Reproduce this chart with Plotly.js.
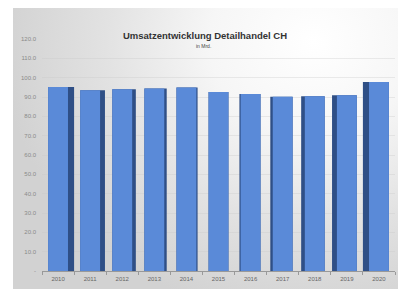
<!DOCTYPE html>
<html>
<head>
<meta charset="utf-8">
<script src="https://cdn.plot.ly/plotly-3.0.1.min.js"></script>
<style>
  html, body { margin: 0; padding: 0; background: #ffffff; }
  #wrap { position: relative; width: 398px; height: 289px; overflow: hidden; }
  #slide { position: absolute; left: 13px; top: 8px; width: 385px; height: 281px;
    background: radial-gradient(ellipse 90% 110% at 78% 12%, #ffffff 0%, #f6f6f6 30%, #e2e2e2 60%, #d2d2d2 90%); }
  #chart { position: absolute; left: 0; top: 0; width: 398px; height: 289px; }
</style>
</head>
<body>
<div id="wrap"><div id="slide"></div><div id="chart"></div></div>
<script>
const years = ['2010','2011','2012','2013','2014','2015','2016','2017','2018','2019','2020'];
const umsatz = [95.2, 93.5, 94.0, 94.4, 94.9, 92.6, 91.5, 90.1, 90.4, 90.9, 97.8];
const yTickVals = [0, 10, 20, 30, 40, 50, 60, 70, 80, 90, 100, 110, 120];
const yTickText = ['-', '10.0', '20.0', '30.0', '40.0', '50.0', '60.0', '70.0', '80.0', '90.0', '100.0', '110.0', '120.0'];

const frontW = 0.62;
const center = 5;
const sideW = years.map((_, i) => Math.abs(i - center) * 0.038);
const sideOffset = years.map((_, i) => i < center ? -frontW / 2 : -frontW / 2 - sideW[i]);

const side = {
  type: 'bar', x: years, y: umsatz,
  width: years.map((_, i) => frontW + sideW[i]),
  offset: sideOffset,
  marker: { color: '#2f4f86', line: { width: 0 } },
  hoverinfo: 'skip', showlegend: false
};
const front = {
  type: 'bar', x: years, y: umsatz,
  width: frontW, offset: -frontW / 2,
  marker: { color: '#5a8ad8', line: { width: 0 } },
  showlegend: false
};

const layout = {
  width: 398, height: 289,
  margin: { l: 42, r: 3, t: 39, b: 18 },
  paper_bgcolor: 'rgba(0,0,0,0)',
  plot_bgcolor: 'rgba(0,0,0,0)',
  barmode: 'overlay',
  title: {
    text: '<b>Umsatzentwicklung Detailhandel CH</b>',
    font: { family: 'Liberation Sans, Arial, sans-serif', size: 9.5, color: '#333333' },
    x: 0.515, xanchor: 'center', y: 0.875, yanchor: 'middle'
  },
  annotations: [{
    text: 'in Mrd.', xref: 'paper', yref: 'paper', x: 0.457, y: 0.97, xanchor: 'center', yanchor: 'middle',
    showarrow: false, font: { family: 'Liberation Sans, Arial, sans-serif', size: 5, color: '#444' }
  }],
  xaxis: {
    type: 'category', tickson: 'boundaries', ticks: 'outside', ticklen: 3, tickcolor: '#999',
    showline: true, linecolor: '#999', linewidth: 1,
    tickfont: { family: 'Liberation Sans, Arial, sans-serif', size: 6, color: '#666' },
    ticklabelstandoff: 2,
    showgrid: false, range: [-0.5, 10.5], fixedrange: true
  },
  yaxis: {
    range: [0, 120], tickvals: yTickVals, ticktext: yTickText,
    tickfont: { family: 'Liberation Sans, Arial, sans-serif', size: 6, color: '#8a8a8a' },
    showgrid: true, gridcolor: 'rgba(200,200,200,0.35)', zeroline: false, showline: false,
    ticks: '', ticklabelstandoff: 5, fixedrange: true
  }
};
Plotly.newPlot('chart', [side, front], layout, { displayModeBar: false, staticPlot: true });
</script>
</body>
</html>
